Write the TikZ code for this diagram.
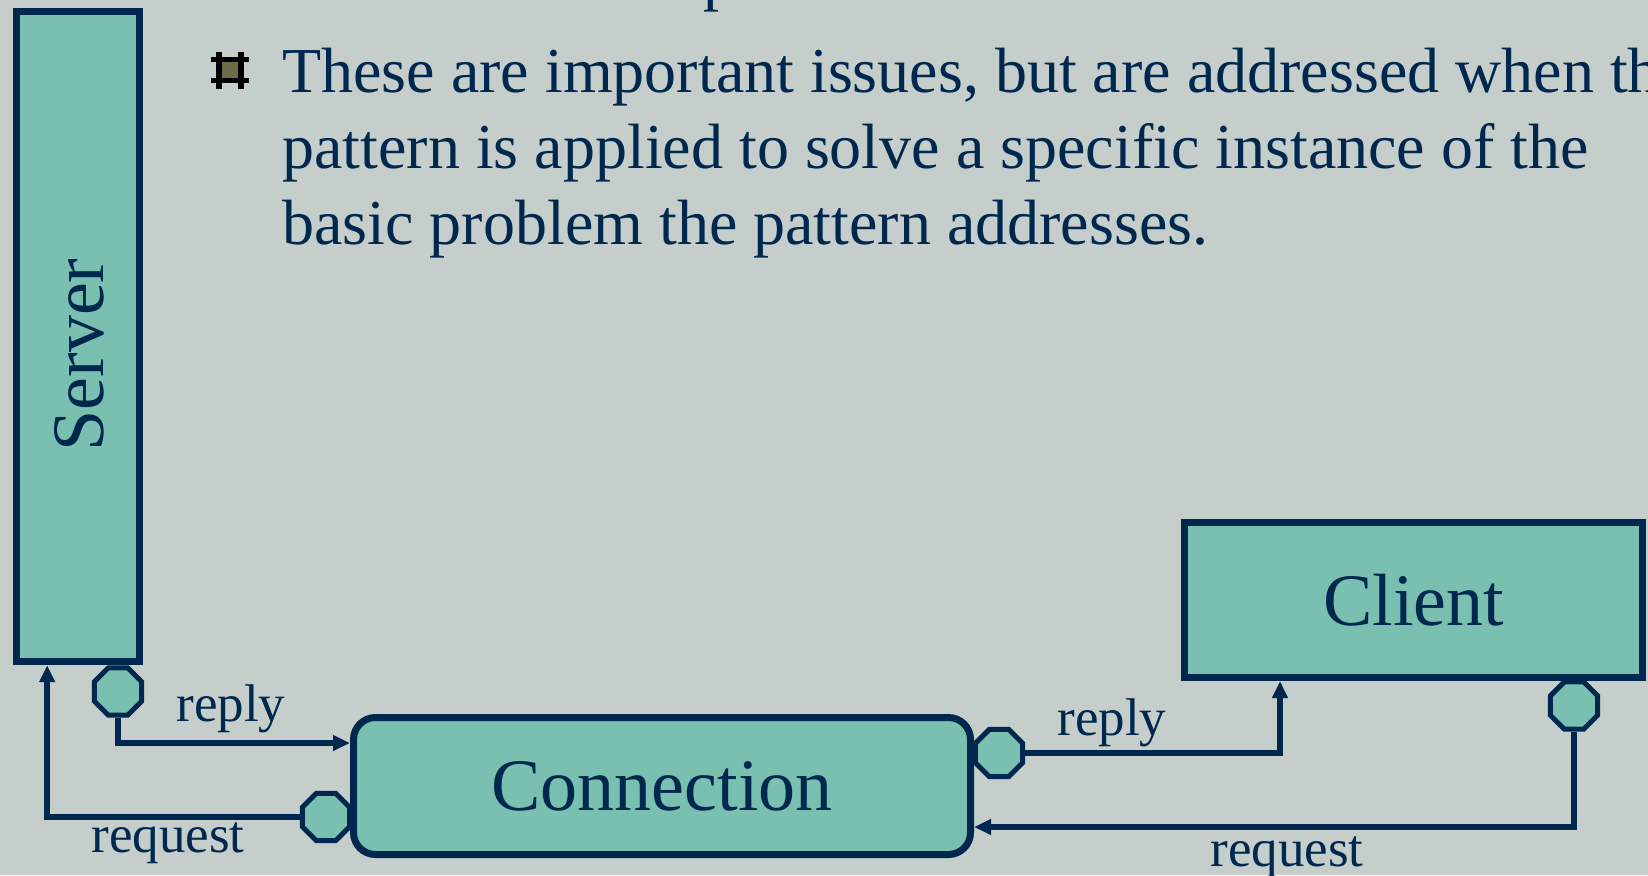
\documentclass[tikz,border=0pt]{standalone}
\usepackage{fontspec}
\setmainfont{Liberation Serif}
\usetikzlibrary{shapes.geometric}
\usetikzlibrary{calc}
\usetikzlibrary{positioning, arrows.meta}

\definecolor{slidebg}{HTML}{C5CECB}
\definecolor{boxfill}{HTML}{79C0B1}
\definecolor{navy}{HTML}{00284F}
\definecolor{olive}{HTML}{6E6C48}

\tikzset{
    block/.style={rectangle, draw=navy, fill=boxfill, line width=3.5pt, inner sep=0pt, text=navy, font=\fontsize{37}{40}\selectfont},
    port/.style={regular polygon, regular polygon sides=8, draw=navy, fill=boxfill, line width=2.5pt, minimum size=25.5pt, inner sep=0pt},
    link/.style={draw=navy, line width=3pt, -{Triangle[length=8.5pt, width=7.5pt]}},
    msg/.style={text=navy, inner sep=0pt, font=\fontsize{26.5}{28}\selectfont},
    toptext/.style={text=navy, inner sep=0pt, font=\fontsize{32}{38}\selectfont}
}

\begin{document}
\begin{tikzpicture}[x=0.5pt, y=-0.5pt]
        \clip (0,0) rectangle (1648,875);
        \fill[slidebg] (0,0) rectangle (1648,875);

        % bullet text
        \node[toptext, anchor=base west] (pcut) at (703,-2) {p};
        \fill[olive] (222,62) rectangle (238,78);
        \fill[black] (211,57) rectangle (249,62);
        \fill[black] (211,78) rectangle (249,83);
        \fill[black] (216,52) rectangle (222,89);
        \fill[black] (238,52) rectangle (244,89);
        \node[toptext, anchor=base west] (line1) at (282,92) {These are important issues, but are addressed when the};
        \node[toptext, anchor=base west] (line2) at (282,168) {pattern is applied to solve a specific instance of the};
        \node[toptext, anchor=base west] (line3) at (282,244) {basic problem the pattern addresses.};

        % components
        \node[block, minimum width=61.5pt, minimum height=325pt] (server) at (77.8,336.7) {};
        \node[text=navy, rotate=90, inner sep=0pt, font=\fontsize{37}{40}\selectfont] (servertxt) at (79,355) {Server};
        \node[block, minimum width=229pt, minimum height=77.5pt] (client) at (1413.5,600) {Client};
        \node[block, rounded corners=11pt, minimum width=308.5pt, minimum height=68.5pt] (con) at (662,786) {Connection};

        % ports
        \node[port] (srvport) at (118,691.5) {};
        \node[port] (conleft) at (326,817) {};
        \node[port] (conright) at (999,753) {};
        \node[port] (cliport) at (1574,705.5) {};

        % messages
        \draw[link] (srvport.south) |- ([yshift=21.5pt]con.west);
        \draw[link] (conleft.west) -| ([xshift=17.2pt]server.south west);
        \draw[link] (conright.east) -| ([xshift=49.5pt]client.south west);
        \draw[link] (cliport.south) |- ([yshift=-20.5pt]con.east);

        \node[msg] (reply1) at (231,709) {reply};
        \node[msg] (request1) at (168,843) {request};
        \node[msg] (reply2) at (1112,723) {reply};
        \node[msg] (request2) at (1287,857) {request};
    \end{tikzpicture}
\end{document}
